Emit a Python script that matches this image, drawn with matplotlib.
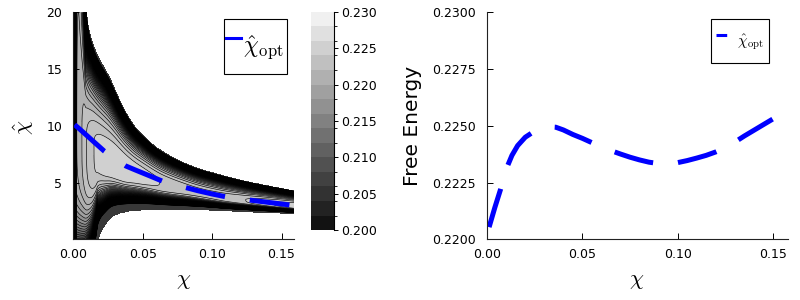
import numpy as np
import matplotlib
matplotlib.use("Agg")
import matplotlib.pyplot as plt
from matplotlib.colors import ListedColormap, BoundaryNorm
from matplotlib.lines import Line2D
from matplotlib.cm import ScalarMappable

plt.rcParams['mathtext.fontset'] = 'cm'
plt.rcParams['font.family'] = 'DejaVu Sans'

# ---------------- data ----------------
# free energy along the optimal chi_hat (right panel)
fe_chi = [0.001, 0.004, 0.007, 0.010, 0.013, 0.016, 0.020, 0.024, 0.028, 0.032,
          0.036, 0.040, 0.045, 0.050, 0.055, 0.060, 0.065, 0.070, 0.075, 0.080,
          0.085, 0.090, 0.095, 0.100, 0.105, 0.110, 0.115, 0.120, 0.125, 0.130,
          0.135, 0.140, 0.145, 0.150, 0.152]
fe_val = [0.22054, 0.2214, 0.2222, 0.2231, 0.2237, 0.22413, 0.22450, 0.22472, 0.22488, 0.22496,
          0.22494, 0.22482, 0.22462, 0.22445, 0.22426, 0.22408, 0.22391, 0.22376, 0.22362, 0.22350,
          0.22340, 0.22334, 0.22333, 0.22338, 0.22347, 0.22358, 0.22370, 0.22385, 0.22403, 0.22428,
          0.22455, 0.22480, 0.22505, 0.22530, 0.22540]

# optimal chi_hat (blue dashed curve, left panel)
opt_chi = [0.001, 0.005, 0.010, 0.015, 0.0223, 0.030, 0.038, 0.045, 0.050, 0.055,
           0.064, 0.070, 0.080, 0.090, 0.100, 0.110, 0.120, 0.130, 0.140, 0.150, 0.158]
opt_hat = [10.1, 9.68, 9.13, 8.58, 7.78, 7.10, 6.46, 6.10, 5.85, 5.60,
           5.14, 4.92, 4.60, 4.28, 4.00, 3.75, 3.58, 3.42, 3.27, 3.12, 3.00]

# edges of the region where the free energy is defined (left panel)
up_chi = [0.0, 0.003, 0.005, 0.007, 0.0094, 0.014, 0.026, 0.037, 0.044, 0.050, 0.060,
          0.077, 0.090, 0.101, 0.125, 0.160]
up_hat = [300.0, 120.0, 55.0, 32.0, 20.2, 17.3, 14.3, 11.4, 10.0, 9.2, 8.1,
          6.9, 6.25, 5.85, 5.1, 4.25]
lo_chi = [0.0, 0.008, 0.013, 0.016, 0.018, 0.0232, 0.028, 0.035, 0.045, 0.060, 0.084, 0.120, 0.160]
lo_hat = [-7.0, -6.0, -4.0, -1.8, 0.0, 1.3, 2.0, 2.35, 2.55, 2.62, 2.62, 2.45, 2.25]

# how fast the free energy falls off away from the optimum
UP_A2, UP_AN, UP_N = 0.02, 0.06, 7.0
A_dn, P_dn = 0.168, 5.0

cbar_ticks = [0.200, 0.205, 0.210, 0.215, 0.220, 0.225, 0.230]
fill_levels = np.round(np.arange(0.200, 0.2301, 0.002), 4)
line_levels = np.round(np.arange(0.160, 0.2301, 0.001), 4)


def pchip(xk, yk, x):
    xk = np.asarray(xk, float); yk = np.asarray(yk, float); x = np.asarray(x, float)
    h = np.diff(xk); d = np.diff(yk) / h
    m = np.zeros_like(yk)
    for k in range(1, len(xk) - 1):
        if d[k - 1] * d[k] > 0:
            w1 = 2 * h[k] + h[k - 1]; w2 = h[k] + 2 * h[k - 1]
            m[k] = (w1 + w2) / (w1 / d[k - 1] + w2 / d[k])
    m[0] = d[0]; m[-1] = d[-1]
    i = np.clip(np.searchsorted(xk, x) - 1, 0, len(xk) - 2)
    t = (x - xk[i]) / h[i]
    h00 = 2 * t**3 - 3 * t**2 + 1; h10 = t**3 - 2 * t**2 + t
    h01 = -2 * t**3 + 3 * t**2; h11 = t**3 - t**2
    out = h00 * yk[i] + h10 * h[i] * m[i] + h01 * yk[i + 1] + h11 * h[i] * m[i + 1]
    lo = x < xk[0]; hi = x > xk[-1]
    out[lo] = yk[0] + m[0] * (x[lo] - xk[0])
    out[hi] = yk[-1] + m[-1] * (x[hi] - xk[-1])
    return out


# ---------------- build the surface ----------------
xg = np.linspace(0.0, 0.159, 800)
yg = np.linspace(0.0, 20.0, 800)
X, Y = np.meshgrid(xg, yg)
O = pchip(opt_chi, opt_hat, xg)[None, :]
Fo = pchip(fe_chi, fe_val, xg)[None, :]
U = pchip(up_chi, up_hat, xg)[None, :]
L = pchip(lo_chi, lo_hat, xg)[None, :]
above = Y >= O
s = np.where(above, (Y - O) / (U - O), (O - Y) / (O - L))
s = np.clip(s, 0, None)
P = np.where(above, UP_A2 * s**2 + UP_AN * s**UP_N, A_dn * s**P_dn)
F = Fo - P
F = np.where(s >= 1, np.nan, F)
F = np.ma.masked_invalid(F)

grays = np.linspace(0.07, 0.94, len(fill_levels) - 1)
cmap = ListedColormap([(g, g, g) for g in grays])
cmap.set_under((0.22, 0.22, 0.22))
norm = BoundaryNorm(fill_levels, cmap.N)

# ---------------- figure ----------------
fig = plt.figure(figsize=(8, 3), dpi=100)
ax1 = fig.add_axes([0.0915, 0.202, 0.276, 0.757])
cax = fig.add_axes([0.389, 0.233, 0.029, 0.728])
ax2 = fig.add_axes([0.609, 0.202, 0.376, 0.757])

blue = '#0000ff'
lw_curve = 3.6

ax1.contourf(X, Y, F, levels=fill_levels, cmap=cmap, norm=norm, extend='min')
ax1.contour(X, Y, F, levels=line_levels, colors='black', linewidths=0.45)
ax1.axvline(0, color='black', lw=5)
ax1.plot(opt_chi, opt_hat, color=blue, lw=lw_curve, dashes=(8, 5))
ax1.set_xlim(0, 0.159)
ax1.set_ylim(0, 20)
ax1.set_xticks([0.0, 0.05, 0.10, 0.15])
ax1.set_xticklabels(['0.00', '0.05', '0.10', '0.15'])
ax1.set_yticks([5, 10, 15, 20])
ax1.set_xlabel(r'$\chi$', fontsize=16)
ax1.set_ylabel(r'$\hat{\chi}$', fontsize=16)
ax1.xaxis.set_label_coords(0.498, -0.14)
ax1.yaxis.set_label_coords(-0.17, 0.495)
leg1 = ax1.legend(handles=[Line2D([], [], color=blue, lw=2.2)],
                  labels=[r'$\hat{\chi}_{\mathrm{opt}}$'], loc='upper right',
                  bbox_to_anchor=(0.968, 0.970), borderaxespad=0, fontsize=17,
                  handlelength=0.6, handletextpad=0.12, borderpad=0.12,
                  handleheight=2.8,
                  fancybox=False, framealpha=1, edgecolor='black')
leg1.get_frame().set_linewidth(0.8)

sm = ScalarMappable(norm=norm, cmap=cmap)
cb = fig.colorbar(sm, cax=cax, ticks=cbar_ticks, extend='neither')
cb.ax.set_yticklabels(['%.3f' % t for t in cbar_ticks])
cb.outline.set_visible(False)
cax.spines['right'].set_visible(True)
cax.tick_params(direction='out', length=3, width=0.7, labelsize=9, pad=1.5)

ax2.plot(fe_chi, fe_val, color=blue, lw=lw_curve, dashes=(8, 5))
ax2.set_xlim(0, 0.158)
ax2.set_ylim(0.22, 0.23)
ax2.set_xticks([0.0, 0.05, 0.10, 0.15])
ax2.set_xticklabels(['0.00', '0.05', '0.10', '0.15'])
ax2.set_yticks([0.22, 0.2225, 0.225, 0.2275, 0.23])
ax2.set_yticklabels(['0.2200', '0.2225', '0.2250', '0.2275', '0.2300'])
ax2.set_xlabel(r'$\chi$', fontsize=16)
ax2.set_ylabel('Free Energy', fontsize=14.5)
ax2.xaxis.set_label_coords(0.497, -0.14)
ax2.yaxis.set_label_coords(-0.216, 0.5)
leg2 = ax2.legend(handles=[Line2D([], [], color=blue, lw=2.2, dashes=(3.5, 1.5))],
                  labels=[r'$\hat{\chi}_{\mathrm{opt}}$'], loc='upper right',
                  bbox_to_anchor=(0.937, 0.970), borderaxespad=0, fontsize=11,
                  handlelength=1.0, handletextpad=0.4, borderpad=0.3,
                  handleheight=3.1,
                  fancybox=False, framealpha=1, edgecolor='black')
leg2.get_frame().set_linewidth(0.8)

for ax in (ax1, ax2):
    for sp in ('top', 'right'):
        ax.spines[sp].set_visible(False)
    for sp in ('left', 'bottom'):
        ax.spines[sp].set_linewidth(0.8)
        ax.spines[sp].set_color('#222222')
    ax.tick_params(direction='in', length=4, width=0.7, labelsize=9)
    ax.tick_params(axis='y', pad=8)
    ax.tick_params(axis='x', pad=6.5)
    ax.set_zorder(1)

fig.savefig('out.png', dpi=100)
